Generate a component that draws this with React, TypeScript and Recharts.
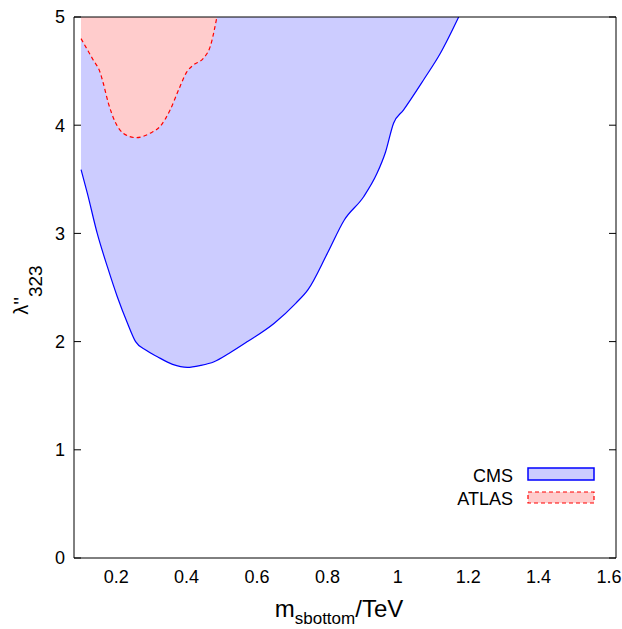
import React from 'react';
import { ComposedChart, Area, XAxis, YAxis, Customized } from 'recharts';

// CMS exclusion contour (sbottom mass in TeV vs lambda''_323)
const cmsMass = [
  0.1, 0.118, 0.146, 0.175, 0.203, 0.232, 0.255, 0.285, 0.317, 0.36, 0.402, 0.44, 0.478,
  0.52, 0.573, 0.649, 0.71, 0.745, 0.8, 0.848, 0.903, 0.941, 0.965, 0.988, 1.016, 1.073,
  1.121, 1.173,
];
const cmsLambda = [
  3.59, 3.37, 3.0, 2.69, 2.415, 2.17, 2.0, 1.92, 1.86, 1.79, 1.762, 1.78, 1.814,
  1.89, 2.0, 2.17, 2.354, 2.48, 2.816, 3.124, 3.339, 3.555, 3.75, 4.018, 4.14, 4.418,
  4.665, 5.0,
];

// ATLAS exclusion contour
const atlasMass = [
  0.1, 0.135, 0.154, 0.163, 0.178, 0.197, 0.22, 0.256, 0.296, 0.325, 0.353, 0.377, 0.4,
  0.419, 0.448, 0.467, 0.486,
];
const atlasLambda = [
  4.8, 4.6, 4.49, 4.39, 4.2, 4.03, 3.925, 3.885, 3.925, 3.99, 4.14, 4.325, 4.49,
  4.556, 4.62, 4.726, 5.0,
];

const xTicks = [0.2, 0.4, 0.6, 0.8, 1, 1.2, 1.4, 1.6];
const yTicks = [0, 1, 2, 3, 4, 5];
const xDomain = [0.08, 1.62];
const yDomain = [0, 5];

const cmsData = cmsMass.map((m, i) => ({ mass: m, lambda: cmsLambda[i] }));
const atlasData = atlasMass.map((m, i) => ({ mass: m, lambda: atlasLambda[i] }));

const FONT = '"Liberation Sans", Arial, Helvetica, sans-serif';

const XLabel = (props: any) => {
  const vb = props.viewBox || {};
  const cx = vb.x + vb.width / 2 - 6;
  return (
    <text x={cx} y={617} textAnchor="middle" fontFamily={FONT} fontSize={24} fill="#000">
      m
      <tspan fontSize={17} dy={7}>sbottom</tspan>
      <tspan dy={-7}>/TeV</tspan>
    </text>
  );
};

const YLabel = () => (
  <text
    x={28}
    y={290}
    transform="rotate(-90, 28, 290)"
    textAnchor="middle"
    fontFamily={FONT}
    fontSize={20}
    fill="#000"
  >
    λ''
    <tspan fontSize={19} dy={14}>323</tspan>
  </text>
);

// inward tick marks only, no labels
const NoLabel = () => <g />;

const LegendBox = () => (
  <g fontFamily={FONT} fontSize={18} fill="#000">
    <text x={513} y={482} textAnchor="end">CMS</text>
    <rect x={528} y={468} width={66} height={12} fill="#ccccff" stroke="#0000ff" strokeWidth={1.5} />
    <text x={513} y={505} textAnchor="end">ATLAS</text>
    <rect
      x={528}
      y={492}
      width={66}
      height={11}
      fill="#ffcccc"
      stroke="#ff0000"
      strokeWidth={1.2}
      strokeDasharray="4 3"
    />
  </g>
);

const tickStyle = { fill: '#000', fontSize: 18, fontFamily: FONT };

export default function App() {
  return (
    <div style={{ position: 'fixed', left: 0, top: 0, background: '#fff' }}>
      <ComposedChart width={622} height={629} margin={{ top: 17, right: 6, bottom: 0, left: 0 }}>
        <XAxis
          xAxisId="x"
          dataKey="mass"
          type="number"
          domain={xDomain}
          ticks={xTicks}
          allowDataOverflow
          height={71}
          stroke="#000"
          tickLine={false}
          tickSize={0}
          tickMargin={12}
          tick={tickStyle}
          label={{ content: XLabel }}
        />
        <XAxis
          xAxisId="xb"
          orientation="bottom"
          mirror
          type="number"
          domain={xDomain}
          ticks={xTicks}
          allowDataOverflow
          axisLine={false}
          tick={NoLabel}
          tickSize={7}
          tickLine={{ stroke: '#000' }}
        />
        <XAxis
          xAxisId="xt"
          orientation="top"
          mirror
          type="number"
          domain={xDomain}
          ticks={xTicks}
          allowDataOverflow
          stroke="#000"
          tick={NoLabel}
          tickSize={7}
          tickLine={{ stroke: '#000' }}
        />
        <YAxis
          yAxisId="y"
          type="number"
          domain={yDomain}
          ticks={yTicks}
          allowDataOverflow
          width={74}
          stroke="#000"
          tickLine={false}
          tickSize={0}
          tickMargin={9}
          tick={tickStyle}
          label={{ content: YLabel }}
        />
        <YAxis
          yAxisId="yl"
          orientation="left"
          mirror
          type="number"
          domain={yDomain}
          ticks={yTicks}
          allowDataOverflow
          axisLine={false}
          tick={NoLabel}
          tickSize={7}
          tickLine={{ stroke: '#000' }}
        />
        <YAxis
          yAxisId="yr"
          orientation="right"
          mirror
          type="number"
          domain={yDomain}
          ticks={yTicks}
          allowDataOverflow
          stroke="#000"
          tick={NoLabel}
          tickSize={7}
          tickLine={{ stroke: '#000' }}
        />
        <Area
          xAxisId="x"
          yAxisId="y"
          data={cmsData}
          dataKey="lambda"
          type="monotone"
          baseValue={5}
          fill="#ccccff"
          fillOpacity={1}
          stroke="#0000ff"
          strokeWidth={1.2}
          dot={false}
          activeDot={false}
          isAnimationActive={false}
        />
        <Area
          xAxisId="x"
          yAxisId="y"
          data={atlasData}
          dataKey="lambda"
          type="monotone"
          baseValue={5}
          fill="#ffcccc"
          fillOpacity={1}
          stroke="#ff0000"
          strokeWidth={1.2}
          strokeDasharray="4 3"
          dot={false}
          activeDot={false}
          isAnimationActive={false}
        />
        <Customized component={LegendBox} />
      </ComposedChart>
    </div>
  );
}
